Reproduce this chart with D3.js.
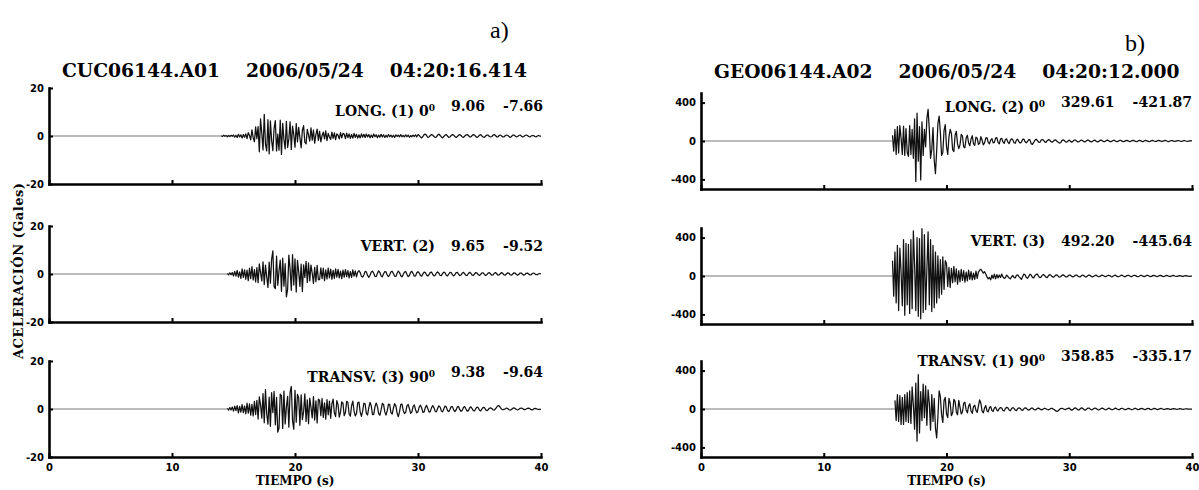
<!DOCTYPE html>
<html>
<head>
<meta charset="utf-8">
<script src="https://cdn.jsdelivr.net/npm/d3@7"></script>
<style>
  html, body { margin: 0; padding: 0; background: #fff; }
  svg { display: block; }
  .axis .domain { stroke: #000; stroke-width: 2.6; stroke-linecap: square; fill: none; }
  .axis .tick line { stroke: #000; stroke-width: 2; }
  .axis .tick text { font-family: "DejaVu Sans", sans-serif; font-weight: bold; font-size: 10px; fill: #000; }
  .serifb { font-family: "DejaVu Serif", serif; font-weight: bold; fill: #000; }
  .trace { fill: none; stroke: #111; stroke-width: 1.25; stroke-linejoin: round; }
  .pre { fill: none; stroke: #777; stroke-width: 1; }
</style>
</head>
<body>
<svg id="chart" width="1199" height="490"></svg>
<script>
// Sampling interval of every acceleration record (s)
const DT = 0.1;

const timeTicks = [0, 10, 20, 30, 40];
const cucTicks = [-20, 0, 20];
const geoTicks = [-400, 0, 400];

// ---- CUC06144.A01 (gals) ----
const cucComponents = ["LONG. (1)", "VERT. (2)", "TRANSV. (3)"];
const cucAngles = ["0", "", "90"];
const cucStarts = [14.0, 14.5, 14.5];

const cucLong = [
  0.1,-0.2,0.3,-0.1,0.2,-0.3,0.2,-0.2,0.3,-0.1,
  0.4,-0.5,0.3,-0.6,0.7,-0.4,0.5,-0.8,0.6,-0.5,
  0.9,-1.1,1.4,0.2,-1.6,2.6,-0.7,-2.4,3.8,-1.1,
  3.9,-6.6,7.1,1.2,-5.8,9.06,-3.4,-6.2,6.8,-7.4,
  6.3,-1.9,-6.1,3.2,6.4,-6.2,0.8,-5.9,6.6,-7.66,
  5.3,-1.4,-5.4,6.1,-4.8,-1.2,5.9,-5.6,4.1,0.6,
  -4.7,5.2,-2.4,3.6,-0.8,-4.9,2.4,4.3,-2.6,-3.3,
  2.8,0.4,-2.1,3.4,-1.7,2.5,-3.0,0.6,2.9,-1.8,
  1.9,-2.4,0.2,1.6,-1.2,2.1,-1.9,1.1,-0.4,-1.4,
  1.6,-1.0,1.3,-1.5,0.9,0.3,-1.2,1.4,-0.8,1.1,
  0.8,-1.1,1.2,-0.7,0.9,-1.0,0.6,-0.9,1.1,-0.6,
  0.7,-0.9,0.5,-0.8,0.9,-0.5,0.7,-0.6,0.8,-0.4,
  0.6,-0.7,0.4,-0.6,0.8,-0.3,0.5,-0.7,0.4,-0.5,
  0.7,-0.4,0.5,-0.6,0.3,-0.5,0.6,-0.3,0.4,-0.5,
  0.3,-0.6,0.5,-0.2,0.4,-0.4,0.6,-0.3,0.2,-0.4,
  0.5,-0.3,0.4,-0.5,0.2,-0.3,0.4,-0.2,0.5,-0.4,
  0.6,0.2,-0.4,-0.8,-0.2,0.6,0.8,0.2,-0.6,-0.4,
  0.2,0.6,0.4,-0.2,-0.6,-0.4,0.4,0.8,0.2,-0.4,
  -0.8,-0.2,0.4,0.6,0.0,-0.6,-0.4,0.2,0.6,0.4,
  -0.2,-0.6,-0.2,0.4,0.6,0.2,-0.4,-0.6,0.0,0.4,
  0.6,0.2,-0.4,-0.4,0.2,0.6,0.4,-0.2,-0.6,-0.2,
  0.4,0.6,0.0,-0.4,-0.6,0.0,0.4,0.4,-0.2,-0.4,
  -0.2,0.4,0.6,0.2,-0.4,-0.4,0.2,0.4,0.0,-0.4,
  -0.4,0.2,0.4,0.2,-0.2,-0.6,-0.2,0.4,0.4,0.0,
  -0.4,-0.2,0.2,0.4,0.0,-0.4,-0.2,0.2,0.4,0.2,
  -0.2,-0.4,0.0,0.2,0.2,-0.2,-0.4,0.0,0.2,0.0,
  0.0
];

const cucVert = [
  0.2,-0.4,0.5,-0.3,0.6,
  -0.8,1.1,-0.9,1.5,-1.3,0.9,-1.8,2.1,-1.4,1.7,
  -2.2,1.6,-2.8,2.4,-1.9,3.1,-2.5,1.8,-3.3,2.7,
  -3.6,4.2,0.5,-2.9,5.1,-4.4,3.7,-1.2,-5.6,4.9,
  -3.8,6.2,9.65,-5.3,-6.1,7.4,-4.7,1.3,5.8,-7.2,
  6.6,-5.1,4.3,-9.52,-6.4,7.9,2.1,-6.8,8.1,-4.6,
  6.3,-7.5,5.7,0.9,-5.2,4.1,-7.3,3.8,-1.4,5.3,
  -3.5,4.6,-2.9,3.7,0.4,-3.9,2.8,-3.2,3.6,-2.4,
  -2.3,2.6,-1.9,2.4,-2.8,1.7,-2.1,2.5,-1.6,2.0,
  -2.2,1.5,-1.8,2.1,-1.3,1.9,-1.6,1.2,-1.9,1.6,
  -1.3,1.8,-1.1,1.4,-1.6,1.0,-1.4,1.7,-0.9,1.3,
  -1.2,0.8,1.4,0.6,-0.9,-1.3,-0.4,1.1,0.9,-0.6,
  -1.4,-0.5,0.8,1.2,0.3,-1.0,-1.1,0.2,1.3,0.7,
  -0.8,-1.2,0.1,1.0,0.9,-0.5,-1.1,-0.3,0.9,1.1,
  0.2,-0.9,-1.0,0.3,1.2,0.6,-0.7,-1.2,-0.2,0.8,
  1.0,-0.1,-1.1,-0.6,0.7,1.1,0.2,-0.9,-0.8,0.5,
  1.0,0.4,-0.6,-0.9,0.1,0.8,0.6,-0.4,-0.9,-0.2,
  0.7,0.8,-0.2,-0.8,-0.5,0.4,0.9,0.3,-0.6,-0.7,
  0.2,0.8,0.5,-0.5,-0.8,0.0,0.7,0.6,-0.3,-0.8,
  -0.3,0.6,0.7,-0.1,-0.7,-0.4,0.4,0.7,0.1,-0.6,
  -0.6,0.2,0.7,0.3,-0.5,-0.6,0.1,0.6,0.4,-0.3,
  -0.6,-0.1,0.5,0.5,-0.2,-0.6,-0.3,0.4,0.6,0.0,
  -0.5,-0.4,0.3,0.6,0.1,-0.5,-0.4,0.2,0.6,0.2,
  -0.4,-0.5,0.1,0.5,0.3,-0.3,-0.5,0.0,0.5,0.4,
  -0.2,-0.5,-0.1,0.4,0.4,-0.1,-0.5,-0.2,0.3,0.4,
  0.0,-0.4,-0.3,0.2,0.4,0.1,-0.3,-0.3,0.1,0.2,
  0.0
];

const cucTransv = [
  0.3,-0.5,0.6,-0.4,0.8,
  -0.9,1.2,-0.7,1.4,-1.6,1.1,-1.3,1.8,-1.5,1.2,
  -2.0,2.4,-1.7,2.1,-2.6,1.9,-2.9,3.2,-2.3,3.6,
  -4.2,5.1,1.6,-3.8,6.4,-5.7,8.1,-2.0,-6.3,4.9,
  -7.2,6.8,-1.5,7.3,-6.6,4.8,-9.64,-7.9,6.2,5.6,
  -8.1,7.4,-6.2,0.8,5.3,-7.6,6.9,9.38,-4.9,-8.4,
  7.8,-5.5,6.1,4.7,-6.8,5.9,-4.4,-1.1,6.3,-5.2,
  3.8,-6.1,4.5,0.7,-3.7,5.2,-4.6,3.4,-5.8,4.1,
  3.7,-2.8,4.4,-3.5,2.6,-4.2,3.9,-2.4,3.3,-3.8,
  2.2,4.1,-1.6,-3.2,3.5,1.8,-3.4,-1.2,3.0,2.4,
  -2.8,-1.5,3.2,2.7,-2.1,-3.0,1.4,3.3,-0.8,-2.9,
  -1.9,2.6,2.9,-1.3,-3.1,-0.9,2.4,2.2,-1.8,-2.5,
  0.6,2.8,1.3,-2.3,-2.2,0.9,2.5,1.1,-1.9,-2.6,
  -0.4,2.3,1.9,-1.2,-2.5,-0.7,2.0,1.8,-1.5,-2.1,
  0.3,2.2,1.4,-1.7,-3.2,-1.1,1.9,2.0,-0.6,-1.9,
  -1.4,1.3,1.9,0.2,-1.8,-1.3,1.1,1.7,-0.3,-1.6,
  -1.2,0.9,1.6,0.4,-1.4,-1.2,0.7,1.5,0.2,-1.3,
  -1.1,0.6,1.4,0.5,-1.0,-1.2,0.3,1.3,0.8,-0.8,
  -1.2,0.1,1.2,0.9,-0.6,-1.1,-0.2,1.0,1.0,-0.4,
  -1.1,-0.4,0.9,1.0,-0.3,-1.0,-0.5,0.7,1.0,0.0,
  -0.9,-0.7,0.5,0.9,0.2,-0.7,-0.8,0.2,0.8,0.5,
  -0.5,-0.8,0.0,0.7,0.6,-0.3,-0.7,-0.3,0.3,0.5,
  0.2,-0.3,-0.5,0.1,0.8,1.4,1.3,0.6,-0.1,-0.3,
  -0.2,0.1,0.4,0.2,-0.3,-0.5,-0.2,0.3,0.5,0.2,
  -0.2,-0.4,-0.1,0.3,0.4,0.2,-0.2,-0.3,0.0,0.3,
  0.4,0.1,-0.3,-0.4,0.0,0.3,0.2,-0.1,-0.2,-0.1,
  -0.2
];

// ---- GEO06144.A02 (gals) ----
const geoComponents = ["LONG. (2)", "VERT. (3)", "TRANSV. (1)"];
const geoAngles = ["0", "", "90"];
const geoStarts = [15.6, 15.6, 15.8];

const geoLong = [
  60,-105,120,-140,
  150,-125,160,30,-140,155,-150,130,-120,-160,
  160,-140,120,-180,230,-421.87,290,-210,150,-405,
  200,-150,120,-60,230,329.61,120,-180,-90,140,
  -200,-340,-100,180,260,90,-150,-120,110,170,
  -60,-140,40,120,80,-90,-110,60,100,-30,
  -80,-40,70,50,-60,-70,30,60,-20,-50,
  20,55,-30,-45,40,30,-35,-25,45,10,
  -40,-20,30,35,-15,-30,10,25,-20,-15,
  30,35,-15,-30,20,28,-10,-25,15,22,
  -12,-28,8,22,14,-18,-24,10,18,-8,
  -22,-12,16,20,-8,-18,-5,14,12,-28,
  -35,-15,8,18,6,-12,-15,7,16,9,
  -9,-15,3,14,12,-6,-13,-3,10,12,
  -3,-12,-22,-18,4,12,5,-9,-12,0,
  9,-4,-12,-3,9,10,0,-9,-7,4,
  10,3,-7,-9,2,9,6,-4,-9,-2,
  7,8,-3,-9,-4,6,9,2,-7,-6,
  3,9,4,-6,-7,0,7,6,-3,-7,
  -2,6,7,-2,-7,-4,4,7,2,-6,
  -4,3,7,3,-4,-6,0,6,4,-3,
  -6,0,6,4,-2,-6,-3,4,6,0,
  -5,-4,3,6,2,-4,-5,2,6,3,
  -3,-6,0,5,4,-2,-5,-2,4,5,
  0,-5,-3,3,5,0,-3,-3,2,3,
  0
];

const geoVert = [
  160,-210,250,-280,
  320,-360,290,40,-310,380,-410,340,-300,330,
  -390,380,-340,470,120,-360,400,-420,390,-445.64,
  492.2,-380,430,-350,60,460,-300,380,-370,320,
  -330,250,-280,210,-230,170,-190,200,-140,160,
  130,-110,90,-120,80,-70,100,-60,75,-85,
  55,-60,70,-45,55,-65,40,-50,60,-35,
  45,-40,30,-35,50,-25,40,60,70,50,
  30,45,20,-10,-30,-15,-40,10,-25,20,
  -30,15,-20,10,-15,20,-10,-25,-15,10,
  -5,-20,-30,-10,5,-15,-20,8,12,-6,
  -20,-36,-8,20,12,-16,-24,-4,18,10,
  -14,-20,4,16,20,-4,-16,-12,8,16,
  4,-12,-16,2,14,10,-6,-14,-4,10,
  12,-2,-12,-8,6,12,4,-8,-10,0,
  10,8,-4,-10,-2,8,10,0,-8,-8,
  4,10,2,-8,-8,2,10,6,-4,-10,
  -2,6,8,-2,-8,-4,6,8,2,-6,
  -6,2,8,4,-6,-8,0,8,6,-4,
  -8,-2,6,8,0,-6,-6,4,8,2,
  -6,-6,2,8,4,-4,-8,-2,6,6,
  -2,-6,-2,6,6,0,-6,-4,4,6,
  2,-4,-6,2,6,4,-4,-6,0,6,
  4,-2,-6,-2,4,6,0,-4,-4,2,
  4,2,-4,-4,2,4,2,-2,-4,0,
  0
];

const geoTransv = [
  90,-120,
  150,-130,140,-160,120,-160,150,-130,170,-140,
  190,-150,230,40,-210,270,-335.17,358.85,-250,180,
  -120,260,-90,240,-170,200,60,-220,150,-130,
  110,-200,-300,-80,190,130,-60,-140,90,120,
  -50,-90,110,60,-70,-40,100,80,-30,-60,
  90,20,-50,-30,60,70,-10,-40,30,55,
  -20,-45,25,40,-15,-35,30,95,60,-20,
  -40,10,35,-20,-30,15,25,-15,-25,10,
  20,-10,-20,5,15,10,-15,-20,5,18,
  12,-10,-18,4,14,8,-12,-16,3,12,
  8,-10,-14,2,12,9,-6,-12,-3,8,
  10,-2,-10,-6,6,9,1,-7,-8,2,
  8,3,-5,-9,-3,6,7,-1,-8,-20,
  -25,-18,-6,4,8,2,-5,-6,2,6,
  10,-4,-12,-6,8,12,2,-8,-10,2,
  12,6,-6,-12,-2,8,10,0,-8,-6,
  4,10,4,-6,-10,-2,6,10,2,-6,
  -8,0,8,6,-4,-8,-2,6,8,0,
  -6,-6,4,8,2,-6,-6,0,6,4,
  -2,-8,-2,6,6,0,-6,-4,4,6,
  2,-4,-6,2,6,4,-4,-6,0,6,
  4,-2,-6,-2,4,6,0,-4,-4,2,
  4,2,-4,-4,2,4,2,-2,-4,0,
  4,2,-2,-4,0,2,2,-2,-2,0,
  0
];

const cucTraces = [cucLong, cucVert, cucTransv];
const geoTraces = [geoLong, geoVert, geoTransv];

const stations = [
  {
    title: ["CUC06144.A01", "2006/05/24", "04:20:16.414"],
    tag: "a)",
    components: cucComponents, angles: cucAngles, starts: cucStarts, traces: cucTraces,
    ticks: cucTicks, yDomain: [-20, 20],
    xRange: [49, 541], tops: [88, 226, 361],
    labelRight: 543, labelBase: [116, 251, 382],
    titleX: 62, titleY: 77, tagX: 490, tagY: 38, yTitle: true
  },
  {
    title: ["GEO06144.A02", "2006/05/24", "04:20:12.000"],
    tag: "b)",
    components: geoComponents, angles: geoAngles, starts: geoStarts, traces: geoTraces,
    ticks: geoTicks, yDomain: [-500, 500],
    xRange: [701, 1192], tops: [93, 228, 361],
    labelRight: 1192, labelBase: [112, 246, 366],
    titleX: 714, titleY: 78, tagX: 1125, tagY: 51, yTitle: false
  }
];

const PANEL_H = 96;
const svg = d3.select("#chart");

stations.forEach(st => {
  const g = svg.append("g");
  const x = d3.scaleLinear().domain([0, 40]).range(st.xRange);

  // station tag and header
  g.append("text")
    .attr("x", st.tagX).attr("y", st.tagY)
    .style("font-family", '"Liberation Serif", "Times New Roman", serif')
    .style("font-size", "24px")
    .text(st.tag);

  const head = g.append("text").attr("class", "serifb")
    .attr("x", st.titleX).attr("y", st.titleY)
    .style("font-size", "18.7px");
  st.title.forEach((s, i) => head.append("tspan").attr("dx", i ? 26 : 0).text(s));

  st.traces.forEach((vals, k) => {
    const top = st.tops[k];
    const y = d3.scaleLinear().domain(st.yDomain).range([top + PANEL_H, top]);
    const pg = g.append("g");

    // quiet record before the trigger
    const pre = [[0, 0], [st.starts[k], 0]];
    const line = d3.line().x(d => x(d[0])).y(d => y(d[1]));
    pg.append("path").attr("class", "pre").attr("d", line(pre));

    const pts = vals.map((v, i) => [st.starts[k] + i * DT, v]);
    pg.append("path").attr("class", "trace").attr("d", line(pts));

    // axes (plain hyphen for negative ticks)
    const yAx = d3.axisLeft(y).tickValues(st.ticks).tickSize(-4).tickSizeOuter(0)
      .tickPadding(5).tickFormat(d => String(d));
    pg.append("g").attr("class", "axis").attr("transform", `translate(${st.xRange[0]},0)`).call(yAx);

    const xAx = d3.axisBottom(x).tickValues(timeTicks).tickSize(-4).tickSizeOuter(0)
      .tickPadding(7).tickFormat(d => (k < 2 ? "" : String(d)));
    pg.append("g").attr("class", "axis").attr("transform", `translate(0,${top + PANEL_H})`).call(xAx);

    // component label with peak values
    const lab = pg.append("text").attr("class", "serifb")
      .attr("x", st.labelRight).attr("y", st.labelBase[k])
      .attr("text-anchor", "end").style("font-size", "14px");
    lab.append("tspan").text(st.components[k]);
    if (st.angles[k]) {
      lab.append("tspan").text(" " + st.angles[k]);
      lab.append("tspan").attr("dy", -5).style("font-size", "9px").text("0");
      lab.append("tspan").attr("dy", 5).text("");
    }
    lab.append("tspan").attr("dx", 16).text(d3.max(vals).toFixed(2));
    lab.append("tspan").attr("dx", 18).text(d3.min(vals).toFixed(2));
  });

  // time axis title
  g.append("text").attr("class", "serifb")
    .attr("x", x(20)).attr("y", 485).attr("text-anchor", "middle")
    .style("font-size", "12px").text("TIEMPO (s)");

  if (st.yTitle) {
    g.append("text").attr("class", "serifb")
      .attr("transform", "translate(23,271) rotate(-90)")
      .attr("text-anchor", "middle").style("font-size", "13px")
      .attr("textLength", 176).attr("lengthAdjust", "spacing")
      .text("ACELERACIÓN (Gales)");
  }
});
</script>
</body>
</html>
